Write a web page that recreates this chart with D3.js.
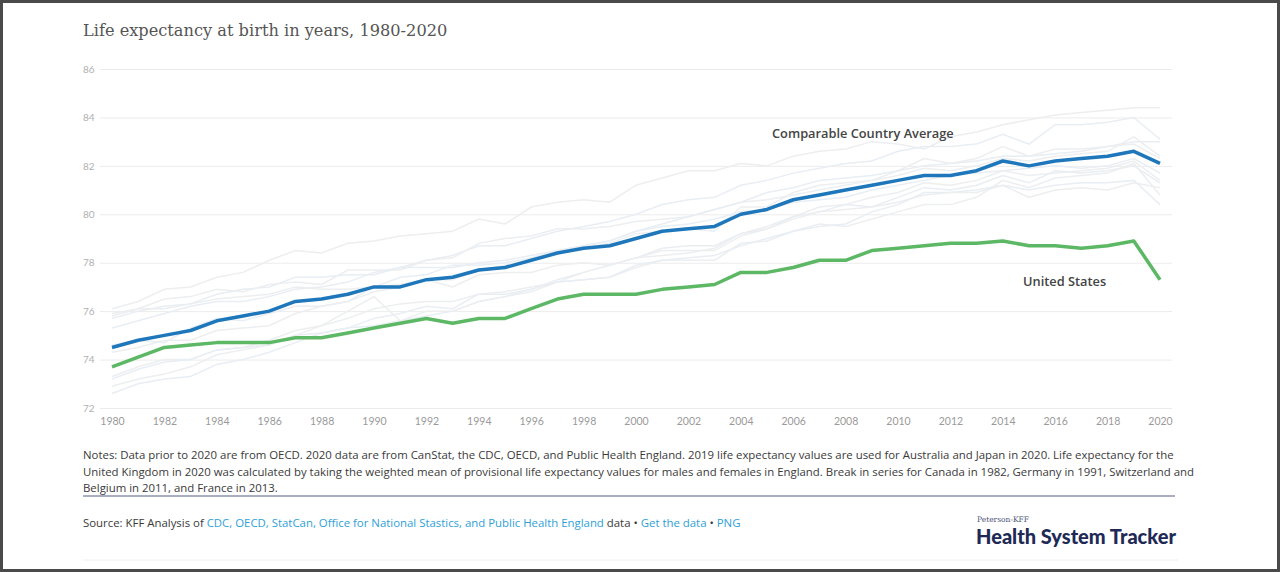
<!DOCTYPE html>
<html>
<head>
<meta charset="utf-8">
<script src="https://cdn.jsdelivr.net/npm/d3@7"></script>
<style>
  body { margin: 0; background: #fff; }
  svg { display: block; }
  .grid line { stroke: #ececec; stroke-width: 1px; }
  .grid .domain { display: none; }
  .yaxis text { fill: #b0b0b0; font-family: Lato, sans-serif; font-size: 10px; }
  .xaxis text { fill: #9a9a9a; font-family: Lato, sans-serif; font-size: 10.5px; }
  .xaxis .domain, .xaxis line, .yaxis .domain, .yaxis line { display: none; }
  .small { font-family: 'Open Sans', sans-serif; fill: #3a3a3a; }
</style>
</head>
<body>
<div id="chart"></div>
<script>
// years on the x axis
var years = d3.range(1980, 2021);

var yTicks = [72, 74, 76, 78, 80, 82, 84, 86];
var xTicks = d3.range(1980, 2021, 2);

var usValues = [73.7, 74.1, 74.5, 74.6, 74.7, 74.7, 74.7, 74.9, 74.9, 75.1,
  75.3, 75.5, 75.7, 75.5, 75.7, 75.7, 76.1, 76.5, 76.7, 76.7,
  76.7, 76.9, 77.0, 77.1, 77.6, 77.6, 77.8, 78.1, 78.1, 78.5,
  78.6, 78.7, 78.8, 78.8, 78.9, 78.7, 78.7, 78.6, 78.7, 78.9, 77.3];

var avgValues = [74.5, 74.8, 75.0, 75.2, 75.6, 75.8, 76.0, 76.4, 76.5, 76.7,
  77.0, 77.0, 77.3, 77.4, 77.7, 77.8, 78.1, 78.4, 78.6, 78.7,
  79.0, 79.3, 79.4, 79.5, 80.0, 80.2, 80.6, 80.8, 81.0, 81.2,
  81.4, 81.6, 81.6, 81.8, 82.2, 82.0, 82.2, 82.3, 82.4, 82.6, 82.1];

// faint lines, one per comparable country
var japan = [76.1, 76.4, 76.9, 77.0, 77.4, 77.6, 78.1, 78.5, 78.4, 78.8,
  78.9, 79.1, 79.2, 79.3, 79.8, 79.6, 80.3, 80.5, 80.6, 80.5,
  81.2, 81.5, 81.8, 81.8, 82.1, 82.0, 82.4, 82.6, 82.7, 83.0,
  82.9, 82.7, 83.2, 83.4, 83.7, 83.9, 84.1, 84.2, 84.3, 84.4, 84.4];
var switzerland = [75.7, 76.0, 76.2, 76.3, 76.7, 76.9, 77.0, 77.4, 77.4, 77.5,
  77.5, 77.8, 78.1, 78.3, 78.7, 78.7, 79.0, 79.3, 79.5, 79.7,
  80.0, 80.4, 80.6, 80.7, 81.2, 81.4, 81.7, 81.9, 82.1, 82.2,
  82.6, 82.8, 82.8, 82.9, 83.3, 82.9, 83.7, 83.7, 83.8, 84.0, 83.1];
var sweden = [75.8, 76.1, 76.5, 76.6, 76.9, 76.8, 77.1, 77.2, 77.1, 77.7,
  77.7, 77.7, 78.1, 78.2, 78.8, 79.0, 79.1, 79.4, 79.4, 79.5,
  79.7, 79.8, 79.9, 80.2, 80.5, 80.6, 80.8, 81.0, 81.2, 81.4,
  81.6, 81.9, 81.8, 82.0, 82.3, 82.2, 82.4, 82.5, 82.6, 83.2, 82.4];
var australia = [74.6, 74.8, 74.7, 75.3, 75.7, 75.6, 75.9, 76.2, 76.2, 76.4,
  77.0, 77.4, 77.5, 77.9, 77.9, 78.0, 78.2, 78.5, 78.7, 78.9,
  79.3, 79.6, 79.9, 80.2, 80.5, 80.9, 81.1, 81.4, 81.5, 81.6,
  81.8, 82.0, 82.1, 82.2, 82.4, 82.4, 82.5, 82.6, 82.8, 83.0, 83.0];
var france = [74.3, 74.5, 74.8, 74.8, 75.2, 75.3, 75.4, 75.9, 76.2, 76.4,
  76.8, 77.0, 77.3, 77.3, 77.7, 77.9, 78.1, 78.4, 78.6, 78.8,
  79.2, 79.3, 79.4, 79.3, 80.3, 80.3, 80.9, 81.2, 81.3, 81.4,
  81.8, 82.3, 82.1, 82.3, 82.8, 82.4, 82.7, 82.7, 82.8, 82.9, 82.3];
var canada = [75.3, 75.6, 75.9, 76.2, 76.4, 76.4, 76.6, 76.9, 77.0, 77.2,
  77.6, 77.8, 77.8, 77.8, 78.0, 78.1, 78.3, 78.5, 78.7, 78.9,
  79.3, 79.5, 79.6, 79.8, 80.1, 80.2, 80.5, 80.6, 80.7, 81.0,
  81.2, 81.4, 81.6, 81.7, 81.8, 81.9, 82.0, 81.9, 82.0, 82.3, 81.7];
var netherlands = [75.9, 76.1, 76.1, 76.3, 76.5, 76.6, 76.7, 77.0, 76.9, 76.9,
  77.0, 77.1, 77.3, 77.0, 77.5, 77.6, 77.6, 77.9, 78.0, 77.9,
  78.2, 78.3, 78.4, 78.6, 79.2, 79.5, 79.9, 80.3, 80.4, 80.7,
  80.9, 81.3, 81.2, 81.4, 81.8, 81.6, 81.7, 81.8, 81.9, 82.2, 81.4];
var austria = [72.6, 73.0, 73.2, 73.3, 73.8, 74.0, 74.3, 74.7, 75.1, 75.3,
  75.4, 75.6, 75.8, 76.0, 76.4, 76.6, 76.9, 77.3, 77.6, 77.9,
  78.2, 78.6, 78.7, 78.7, 79.2, 79.4, 79.9, 80.1, 80.4, 80.3,
  80.7, 81.1, 81.0, 81.2, 81.6, 81.3, 81.8, 81.7, 81.8, 82.0, 81.3];
var belgium = [73.3, 73.7, 74.0, 74.0, 74.4, 74.5, 74.8, 75.2, 75.4, 75.7,
  76.1, 76.3, 76.4, 76.4, 76.7, 76.8, 77.0, 77.2, 77.3, 77.4,
  77.8, 78.1, 78.1, 78.1, 78.8, 78.9, 79.3, 79.6, 79.5, 79.8,
  80.1, 80.4, 80.4, 80.7, 81.4, 81.1, 81.5, 81.6, 81.7, 82.1, 80.8];
var uk = [73.2, 73.6, 73.9, 74.0, 74.4, 74.5, 74.6, 75.0, 75.1, 75.3,
  75.7, 75.9, 76.2, 76.1, 76.7, 76.7, 76.9, 77.2, 77.3, 77.4,
  77.9, 78.1, 78.2, 78.3, 78.7, 79.0, 79.3, 79.5, 79.6, 80.1,
  80.4, 80.9, 80.9, 81.0, 81.2, 81.0, 81.2, 81.3, 81.3, 81.4, 80.4];
var germany = [72.9, 73.2, 73.4, 73.7, 74.2, 74.4, 74.6, 75.0, 75.4, 76.0,
  76.6, 75.6, 76.0, 76.0, 76.4, 76.6, 76.8, 77.2, 77.6, 77.9,
  78.2, 78.5, 78.5, 78.5, 79.1, 79.4, 79.8, 80.1, 80.2, 80.3,
  80.5, 80.8, 80.9, 80.9, 81.2, 80.7, 81.0, 81.1, 81.0, 81.3, 81.1];

var countries = [japan, switzerland, sweden, australia, france, canada,
  netherlands, austria, belgium, uk, germany];

var notesLines = [
  "Notes: Data prior to 2020 are from OECD. 2020 data are from CanStat, the CDC, OECD, and Public Health England. 2019 life expectancy values are used for Australia and Japan in 2020. Life expectancy for the",
  "United Kingdom in 2020 was calculated by taking the weighted mean of provisional life expectancy values for males and females in England. Break in series for Canada in 1982, Germany in 1991, Switzerland and",
  "Belgium in 2011, and France in 2013."
];

var width = 1280, height = 572;

var svg = d3.select("#chart").append("svg")
  .attr("width", width)
  .attr("height", height);

// frame round the picture
svg.append("rect")
  .attr("x", 1.5).attr("y", 1.5)
  .attr("width", width - 3).attr("height", height - 3)
  .attr("fill", "#fff")
  .attr("stroke", "#4a4a4a")
  .attr("stroke-width", 3);

svg.append("text")
  .attr("x", 83).attr("y", 36)
  .style("font-family", "'DejaVu Serif', serif")
  .style("font-size", "16.2px")
  .style("fill", "#555")
  .text("Life expectancy at birth in years, 1980-2020");

var x = d3.scaleLinear().domain([1980, 2020]).range([112, 1160]);
var y = d3.scaleLinear().domain([72, 86]).range([408, 69]);

// gridlines
svg.append("g")
  .attr("class", "grid")
  .attr("transform", "translate(100,0)")
  .call(d3.axisRight(y).tickValues(yTicks).tickSize(1072).tickFormat(""));

svg.append("g")
  .attr("class", "yaxis")
  .attr("transform", "translate(83,0)")
  .call(d3.axisRight(y).tickValues(yTicks).tickSize(0).tickPadding(0));

svg.append("g")
  .attr("class", "xaxis")
  .attr("transform", "translate(0,408)")
  .call(d3.axisBottom(x).tickValues(xTicks).tickFormat(d3.format("d")).tickSize(0).tickPadding(10));

var line = d3.line()
  .x((d, i) => x(years[i]))
  .y(d => y(d));

svg.append("g")
  .selectAll("path")
  .data(countries)
  .enter()
  .append("path")
  .attr("d", d => line(d))
  .style("fill", "none")
  .style("stroke", (d, i) => i % 2 ? "#e8eef4" : "#eceef0")
  .style("stroke-width", "1.5px");

svg.append("path")
  .attr("d", line(usValues))
  .style("fill", "none")
  .style("stroke", "#5db865")
  .style("stroke-width", "3.5px")
  .style("stroke-linejoin", "round");

svg.append("path")
  .attr("d", line(avgValues))
  .style("fill", "none")
  .style("stroke", "#1f77bb")
  .style("stroke-width", "3.5px")
  .style("stroke-linejoin", "round");

svg.append("text")
  .attr("x", 772).attr("y", 138)
  .style("font-family", "'Open Sans', sans-serif")
  .style("font-weight", "600")
  .style("font-size", "12.8px")
  .style("fill", "#444")
  .text("Comparable Country Average");

svg.append("text")
  .attr("x", 1023).attr("y", 286)
  .style("font-family", "'Open Sans', sans-serif")
  .style("font-weight", "600")
  .style("font-size", "12.8px")
  .style("fill", "#444")
  .text("United States");

// notes
var notes = svg.append("g")
  .selectAll("text")
  .data(notesLines)
  .enter()
  .append("text")
  .attr("class", "small")
  .attr("x", 83)
  .attr("y", (d, i) => 459 + i * 16.5)
  .style("font-size", "10px")
  .text(d => d);

// fit the long first line to the width of the rule below it
var noteSize = 10 * 1092 / notes.node().getComputedTextLength();
notes.style("font-size", noteSize + "px");

svg.append("line")
  .attr("x1", 83).attr("x2", 1175)
  .attr("y1", 496).attr("y2", 496)
  .style("stroke", "#8d95ab")
  .style("stroke-width", "1.5px");

var source = svg.append("text")
  .attr("class", "small")
  .attr("x", 83).attr("y", 527)
  .style("font-size", noteSize + "px");
source.append("tspan").text("Source: KFF Analysis of ");
source.append("tspan").style("fill", "#2f9fd8")
  .text("CDC, OECD, StatCan, Office for National Stastics, and Public Health England");
source.append("tspan").text(" data \u2022 ");
source.append("tspan").style("fill", "#2f9fd8").text("Get the data");
source.append("tspan").text(" \u2022 ");
source.append("tspan").style("fill", "#2f9fd8").text("PNG");

// logo
svg.append("text")
  .attr("x", 977).attr("y", 522)
  .style("font-family", "'DejaVu Serif', serif")
  .style("font-size", "7.5px")
  .style("fill", "#4a5578")
  .text("Peterson-KFF");

svg.append("text")
  .attr("x", 976).attr("y", 544)
  .style("font-family", "Lato, sans-serif")
  .style("font-weight", "900")
  .style("font-size", "20px")
  .style("fill", "#1e2a55")
  .text("Health System Tracker");

svg.append("line")
  .attr("x1", 83).attr("x2", 1178)
  .attr("y1", 560).attr("y2", 560)
  .style("stroke", "#f0f0f0")
  .style("stroke-width", "1px");
</script>
</body>
</html>
